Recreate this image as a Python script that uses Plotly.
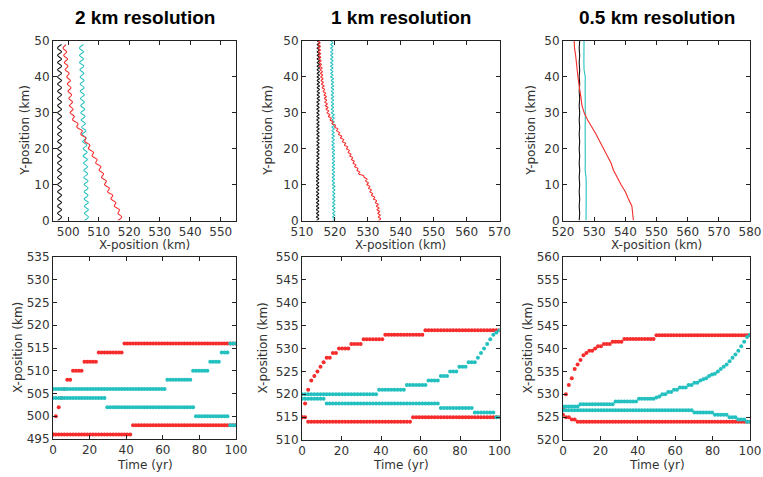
import plotly.graph_objects as go

W, H = 763, 477

# ---------------- data ----------------
panel_titles = ["2 km resolution", "1 km resolution", "0.5 km resolution"]

# Top row: track positions, X-position (km) sampled along Y-position (km)
track_y_2km = [float(v) for v in range(0, 50)]
track_black_2km = [496.5, 497.8, 496.5, 497.8, 496.5, 497.8, 496.5, 497.8, 496.5, 497.8,
                   496.5, 497.8, 496.5, 497.8, 496.5, 497.8, 496.5, 497.8, 496.5, 497.8,
                   496.5, 497.8, 496.5, 497.8, 496.5, 497.8, 496.5, 497.8, 496.5, 497.8,
                   496.5, 497.8, 496.5, 497.8, 496.5, 497.8, 496.5, 497.8, 496.5, 497.8,
                   496.5, 497.8, 496.5, 497.8, 496.5, 497.8, 496.5, 497.8, 496.5, 497.8]
track_cyan_2km = [505.3, 506.6, 505.3, 506.6, 505.3, 506.6, 505.2, 506.5, 505.2, 506.5,
                  505.2, 506.5, 505.1, 506.4, 505.1, 506.3, 505.0, 506.3, 504.9, 506.2,
                  504.9, 506.1, 504.7, 505.9, 504.6, 505.8, 504.4, 505.6, 504.2, 505.5,
                  504.1, 505.4, 504.1, 505.3, 504.0, 505.3, 503.9, 505.2, 503.9, 505.2,
                  503.9, 505.1, 503.8, 505.1, 503.7, 505.0, 503.7, 505.0, 503.7, 505.0]
track_red_2km = [516.3, 517.5, 516.3, 516.8, 515.1, 515.6, 514.0, 514.6, 512.9, 513.5,
                 511.9, 512.5, 510.9, 511.6, 510.1, 510.7, 509.0, 509.5, 507.8, 508.3,
                 506.6, 507.1, 505.4, 505.8, 504.1, 504.6, 502.8, 503.2, 501.4, 502.0,
                 500.6, 501.6, 500.4, 501.4, 500.2, 501.1, 499.9, 500.9, 499.7, 500.7,
                 499.5, 500.3, 499.0, 499.9, 498.7, 499.8, 498.5, 499.5, 498.3, 499.3]

track_y_1km = [v / 2 for v in range(0, 101)]
track_black_1km = [514.4, 515.1, 514.4, 515.1, 514.4, 515.1, 514.4, 515.1, 514.4, 515.1,
                   514.4, 515.1, 514.4, 515.1, 514.4, 515.1, 514.4, 515.1, 514.4, 515.1,
                   514.4, 515.1, 514.4, 515.1, 514.4, 515.1, 514.4, 515.1, 514.4, 515.1,
                   514.4, 515.1, 514.4, 515.1, 514.5, 515.2, 514.5, 515.2, 514.5, 515.2,
                   514.5, 515.2, 514.5, 515.2, 514.5, 515.2, 514.5, 515.2, 514.5, 515.2,
                   514.5, 515.2, 514.5, 515.2, 514.5, 515.2, 514.5, 515.2, 514.5, 515.2,
                   514.5, 515.2, 514.5, 515.2, 514.5, 515.2, 514.5, 515.3, 514.6, 515.3,
                   514.6, 515.3, 514.6, 515.3, 514.6, 515.3, 514.6, 515.3, 514.6, 515.3,
                   514.6, 515.3, 514.6, 515.3, 514.6, 515.3, 514.6, 515.3, 514.6, 515.3,
                   514.6, 515.3, 514.6, 515.3, 514.6, 515.3, 514.6, 515.3, 514.6, 515.3,
                   514.6]
track_cyan_1km = [519.3, 520.0, 519.3, 520.0, 519.3, 520.0, 519.3, 520.0, 519.3, 520.0,
                  519.3, 520.0, 519.3, 520.0, 519.3, 520.0, 519.3, 520.0, 519.3, 520.0,
                  519.2, 519.9, 519.2, 519.9, 519.2, 519.9, 519.2, 519.9, 519.2, 519.9,
                  519.2, 519.9, 519.2, 519.9, 519.2, 519.9, 519.2, 519.9, 519.2, 519.9,
                  519.1, 519.8, 519.1, 519.8, 519.1, 519.8, 519.1, 519.8, 519.1, 519.8,
                  519.1, 519.8, 519.1, 519.8, 519.1, 519.8, 519.1, 519.8, 519.1, 519.8,
                  518.9, 519.6, 518.9, 519.6, 518.9, 519.6, 518.9, 519.6, 518.9, 519.6,
                  518.9, 519.6, 518.9, 519.6, 518.9, 519.6, 518.9, 519.6, 518.9, 519.6,
                  518.7, 519.4, 518.7, 519.4, 518.7, 519.4, 518.7, 519.4, 518.7, 519.4,
                  518.7, 519.4, 518.7, 519.4, 518.7, 519.4, 518.7, 519.4, 518.7, 519.4,
                  518.7]
track_red_1km = [533.2, 533.9, 533.2, 533.8, 533.0, 533.6, 532.8, 533.4, 532.6, 533.2,
                 532.3, 532.7, 531.7, 532.1, 531.1, 531.5, 530.6, 531.1, 530.2, 530.6,
                 529.7, 530.2, 529.3, 529.8, 528.9, 528.7, 527.2, 527.6, 526.7, 527.0,
                 526.0, 526.4, 525.5, 525.9, 525.0, 525.4, 524.5, 524.9, 524.0, 524.4,
                 523.5, 523.9, 522.9, 523.3, 522.3, 522.7, 521.7, 522.1, 521.1, 521.5,
                 520.5, 520.9, 519.9, 520.2, 519.1, 519.5, 518.5, 518.9, 518.0, 518.5,
                 517.6, 518.1, 517.3, 517.9, 517.1, 517.7, 516.9, 517.5, 516.8, 517.4,
                 516.7, 517.2, 516.4, 516.9, 516.1, 516.7, 515.9, 516.5, 515.8, 516.4,
                 515.7, 516.3, 515.6, 516.2, 515.5, 516.1, 515.3, 515.9, 515.2, 515.8,
                 515.1, 515.7, 515.0, 515.7, 515.0, 515.6, 514.9, 515.6, 514.9, 515.5,
                 514.8]

track_y_05km = [float(v) for v in range(0, 51, 2)]
track_black_05km = [525.2, 525.35, 525.2, 525.35, 525.2, 525.35, 525.2, 525.35, 525.2, 525.35,
                    525.2, 525.35, 525.2, 525.35, 525.2, 525.35, 525.2, 525.35, 525.2, 525.35,
                    525.2, 525.35, 525.2, 525.35, 525.2, 525.35]
track_cyan_05km = [527.4, 527.45, 527.4, 527.45, 527.4, 527.45, 527.4, 527.1, 527.15, 527.1,
                   527.15, 527.1, 527.15, 527.1, 527.15, 527.1, 527.15, 527.1, 527.15, 527.1,
                   527.15, 526.75, 526.7, 526.75, 526.7, 526.75]
track_red_05km = [542.6, 542.4, 542.1, 541.0, 540.0, 538.6, 537.3, 536.2, 535.4, 534.2,
                  533.2, 532.0, 530.6, 529.3, 527.9, 526.8, 526.1, 525.8, 525.35, 525.1,
                  524.8, 524.6, 524.4, 524.05, 523.7, 523.6]

# Bottom row: X-position (km) vs time (yr); runs of (held until time, value)
time_yr = [k * 100 / 64 for k in range(65)]

runs_red_a_2km = [(0, 496), (1.6, 500), (3.2, 502), (4.7, 504), (6.3, 506), (10.5, 508),
                  (15.7, 510), (23.5, 512), (38.5, 514), (100, 516)]
runs_red_b_2km = [(42.5, 496), (100, 498)]
runs_cyan_a_2km = [(62, 506), (76, 508), (85.5, 510), (92, 512), (96, 514), (100, 516)]
runs_cyan_b_2km = [(28.5, 504), (77.5, 502), (96, 500), (100, 498)]

runs_red_a_1km = [(0, 515), (1.6, 518), (3.2, 521), (4.7, 523), (6.3, 524), (7.9, 525),
                  (9.4, 526), (11, 527), (14.1, 528), (17.2, 529), (23.5, 530), (29.7, 531),
                  (40.7, 532), (61, 533), (100, 534)]
runs_red_b_1km = [(1.6, 515), (55.5, 514), (100, 515)]
runs_cyan_a_1km = [(37.5, 520), (53, 521), (62.5, 522), (69, 523), (74.8, 524), (79, 525),
                   (84, 526), (88, 527), (89.5, 528), (91, 529), (92.5, 530), (94, 531),
                   (95.5, 532), (97, 533), (99, 533.5), (100, 534)]
runs_cyan_b_1km = [(11.5, 519), (68.9, 518), (87, 517), (97, 516), (100, 515)]

runs_red_a_05km = [(0, 527), (1.6, 530), (3.2, 532), (4.7, 533.5), (6.3, 535.5), (7.9, 536.5),
                   (9.4, 537.5), (11, 538.5), (12.6, 539), (15.7, 539.5), (17.2, 540),
                   (20.4, 540.5), (25.1, 541), (31.3, 541.5), (48.5, 542.1), (100, 542.9)]
runs_red_b_05km = [(0, 525.5), (3.2, 525), (6.3, 524.5), (100, 524)]
runs_cyan_a_05km = [(7.9, 527.3), (26.6, 527.8), (39.1, 528.4), (48.5, 529.0), (50.1, 529.3),
                    (51.6, 529.5), (54.7, 530), (57.9, 530.5), (61, 531), (65.7, 531.5),
                    (68.8, 532), (71.9, 532.5), (73.5, 533), (75.1, 533.3), (76.6, 533.5),
                    (78.2, 534), (79.7, 534.3), (81.3, 534.5), (82.9, 535), (84.4, 535.5),
                    (86, 536), (87.6, 536.5), (89.1, 537.2), (90.7, 538), (92.2, 538.7),
                    (93.8, 539.5), (95.4, 540.5), (96.9, 541.5), (98.5, 542.5), (100, 543)]
runs_cyan_b_05km = [(68.8, 526.5), (81, 526), (88, 525.5), (93.5, 525), (98, 524.5), (100, 524)]

top_x_ranges = [[495, 555], [510, 570], [520, 580]]
top_x_ticks = [[500, 510, 520, 530, 540, 550],
               [510, 520, 530, 540, 550, 560, 570],
               [520, 530, 540, 550, 560, 570, 580]]
top_y_ticks = [0, 10, 20, 30, 40, 50]
bottom_y_ranges = [[495, 535], [510, 550], [520, 560]]
bottom_y_ticks = [[495, 500, 505, 510, 515, 520, 525, 530, 535],
                  [510, 515, 520, 525, 530, 535, 540, 545, 550],
                  [520, 525, 530, 535, 540, 545, 550, 555, 560]]
bottom_x_ticks = [0, 20, 40, 60, 80, 100]

# ---------------- style ----------------
RED = "rgb(246,44,44)"
CYAN = "rgb(36,192,192)"
BLACK = "rgb(15,15,15)"
TXT = "#333333"
FONT = "DejaVu Sans"

# panel boxes in window pixels: (left, right, top, bottom)
top_boxes = [(53, 236, 41, 220.5), (302, 499.5, 41, 220.5), (563, 750, 41, 220.5)]
bot_boxes = [(53, 236, 257, 439), (302, 499.5, 257, 440), (563, 750, 257, 440)]


def hold(runs, times):
    out = []
    for t in times:
        for t_end, v in runs:
            if t <= t_end + 1e-9:
                out.append(v)
                break
    return out


def px_x(v):
    return v / W


def px_y(v):
    return 1 - v / H


def dx(a, b):
    return [px_x(a), px_x(b)]


def dy(top, bottom):
    return [px_y(bottom), px_y(top)]


fig = go.Figure()
layout = dict(width=W, height=H,
              margin=dict(l=0, r=0, t=0, b=0, pad=0, autoexpand=False),
              paper_bgcolor="white", plot_bgcolor="white", showlegend=False,
              font=dict(family=FONT, size=12, color=TXT))


def axis_common():
    return dict(showline=True, linecolor="#222", linewidth=1, mirror="ticks",
                ticks="inside", ticklen=4, tickwidth=1, tickcolor="#222",
                showgrid=False, zeroline=False, automargin=False,
                tickfont=dict(family=FONT, size=12, color=TXT))


def label(text, x, y, angle=0, size=12, family=FONT, color=TXT):
    return dict(text=text, x=px_x(x), y=px_y(y), xref="paper", yref="paper",
                showarrow=False, textangle=angle, xanchor="center", yanchor="middle",
                font=dict(family=family, size=size, color=color))


tracks = [
    (track_y_2km, track_black_2km, track_cyan_2km, track_red_2km, "spline"),
    (track_y_1km, track_black_1km, track_cyan_1km, track_red_1km, "spline"),
    (track_y_05km, track_black_05km, track_cyan_05km, track_red_05km, "linear"),
]
series_bottom = [
    (runs_red_a_2km, runs_red_b_2km, runs_cyan_a_2km, runs_cyan_b_2km),
    (runs_red_a_1km, runs_red_b_1km, runs_cyan_a_1km, runs_cyan_b_1km),
    (runs_red_a_05km, runs_red_b_05km, runs_cyan_a_05km, runs_cyan_b_05km),
]

annotations = []
for i in range(3):
    # ---- top panel ----
    n = i + 1
    xa, ya = f"x{n}", f"y{n}"
    l, r, t, b = top_boxes[i]
    ax = axis_common()
    ax.update(domain=dx(l, r), range=top_x_ranges[i], tickvals=top_x_ticks[i], anchor=ya)
    ay = axis_common()
    ay.update(domain=dy(t, b), range=[0, 50], tickvals=top_y_ticks, anchor=xa)
    layout[f"xaxis{n}"] = ax
    layout[f"yaxis{n}"] = ay
    ys, xb, xc, xr, shape = tracks[i]
    for xs, col in ((xb, BLACK), (xc, CYAN), (xr, RED)):
        fig.add_trace(go.Scatter(x=xs, y=ys, mode="lines", xaxis=xa, yaxis=ya,
                                 line=dict(color=col, width=1.1, shape=shape, smoothing=1.0)))
    cx = (l + r) / 2
    annotations.append(label("<b>" + panel_titles[i] + "</b>", cx, 18, size=19,
                             family="Liberation Sans", color="black"))
    annotations.append(label("X-position (km)", cx, 245))
    annotations.append(label("Y-position (km)", [25, 268, 531][i], (t + b) / 2, angle=-90))

    # ---- bottom panel ----
    n = i + 4
    xa, ya = f"x{n}", f"y{n}"
    l, r, t, b = bot_boxes[i]
    ax = axis_common()
    ax.update(domain=dx(l, r), range=[0, 100], tickvals=bottom_x_ticks, anchor=ya)
    ay = axis_common()
    ay.update(domain=dy(t, b), range=bottom_y_ranges[i], tickvals=bottom_y_ticks[i], anchor=xa)
    layout[f"xaxis{n}"] = ax
    layout[f"yaxis{n}"] = ay
    ra, rb, ca, cb = series_bottom[i]
    for runs, col in ((ra, RED), (rb, RED), (ca, CYAN), (cb, CYAN)):
        fig.add_trace(go.Scatter(x=time_yr, y=hold(runs, time_yr), mode="markers",
                                 xaxis=xa, yaxis=ya,
                                 marker=dict(color=col, size=4, line=dict(width=0))))
    cx = (l + r) / 2
    annotations.append(label("Time (yr)", cx, 465))
    annotations.append(label("X-position (km)", [18, 262, 527][i], (t + b) / 2, angle=-90))

layout["annotations"] = annotations
fig.update_layout(**layout)
fig.write_html("out.html",
               config={"displayModeBar": False},
               post_script="document.body.style.margin='0px';"
                           "document.body.style.overflow='hidden';")
